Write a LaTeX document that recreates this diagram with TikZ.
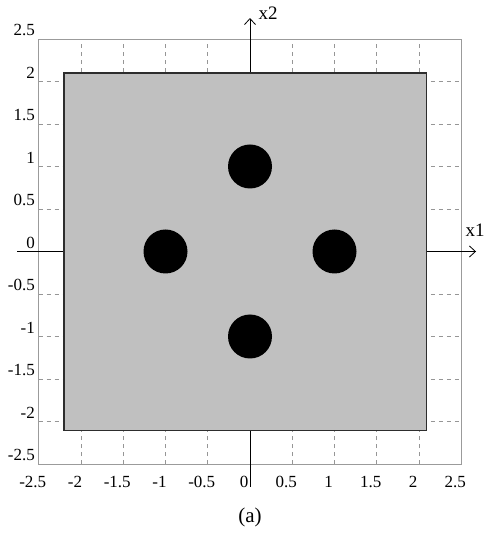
\documentclass[tikz,border=0pt]{standalone}
\usepackage{fontspec}
\setmainfont{Liberation Serif}
\usetikzlibrary{arrows.meta}
\usepackage{xcolor}
\definecolor{plategray}{RGB}{192,192,192}
\definecolor{gridgray}{RGB}{150,150,150}
\definecolor{framegray}{RGB}{155,155,155}
\definecolor{edgeblack}{RGB}{45,45,45}

\begin{document}
\begin{tikzpicture}[
  x=84.5pt, y=85pt,
  gridline/.style={gridgray, dash pattern=on 4pt off 4pt, line width=0.6pt},
  frame/.style={framegray, line width=0.9pt},
  axis/.style={-{Straight Barb[length=6pt,width=11pt]}, line width=0.8pt, black},
  plate/.style={fill=plategray, draw=edgeblack, line width=1.2pt},
  tick/.style={font=\fontsize{17}{19}\selectfont, inner sep=0pt},
  axlab/.style={font=\fontsize{19}{21}\selectfont, inner sep=0pt}
]
\useasboundingbox (-2.9586,-3.3118) rectangle (2.7929,2.9588);

% grid and frame
\foreach \v in {-2,-1.5,-1,-0.5,0.5,1,1.5,2} {
  \draw[gridline] (\v,-2.5) -- (\v,2.5);
  \draw[gridline] (-2.5,\v) -- (2.5,\v);
}
\draw[frame] (-2.5,-2.5) rectangle (2.5,2.5);

% axes
\coordinate (x1from) at (-2.757,0);
\coordinate (x1to) at (2.675,0);
\coordinate (x2from) at (0,-2.77);
\coordinate (x2to) at (0,2.747);
\draw[axis] (x1from) -- (x1to);
\draw[axis] (x2from) -- (x2to);
\node[axlab, anchor=east] (x1lab) at (2.78,0.253) {x1};
\node[axlab] (x2lab) at (0.215,2.8) {x2};

% plate with four holes
\draw[plate] (-2.2,-2.11) rectangle (2.09,2.1);
\foreach \cx/\cy in {0/1,-1/0,1/0,0/-1}
  \fill[black] (\cx,\cy) circle (22pt);

% tick labels
\foreach \v [count=\i] in {-2.5,-2,-1.5,-1,-0.5,0,0.5,1,1.5,2,2.5} {
  \node[tick] (xt\i) at (\v,-2.712) [xshift=-6pt] {\v};
  \node[tick, anchor=east] (yt\i) at (-2.544,\v) [yshift=9pt] {\v};
}

\node[font=\fontsize{21}{23}\selectfont, inner sep=0pt] (cap) at (0,-3.124) {(a)};
\end{tikzpicture}
\end{document}
